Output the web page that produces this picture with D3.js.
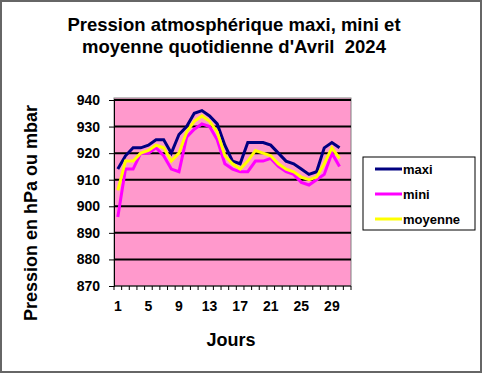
<!DOCTYPE html>
<html>
<head>
<meta charset="utf-8">
<script src="https://cdn.jsdelivr.net/npm/d3@7"></script>
<style>
  body { margin: 0; background: #fff; }
  text { font-family: "Liberation Sans", Arial, sans-serif; font-weight: bold; fill: #000; }
</style>
</head>
<body>
<svg width="482" height="373"></svg>
<script>
// days of April (the chart keeps one empty slot after day 30)
var days = [1,2,3,4,5,6,7,8,9,10,11,12,13,14,15,16,17,18,19,20,21,22,23,24,25,26,27,28,29,30,31];
var dayLabels = [1,5,9,13,17,21,25,29];
var yTicks = [870,880,890,900,910,920,930,940];

var maxi = [914,919,922,922,923,925,925,920,927,930,935,936,934,931,923,917,916,924,924,924,923,920,917,916,914,912,913,922,924,922];
var mini = [896,914,914,920,920,922,919,914,913,926,929,931,930,925,916,914,913,913,917,917,918,915,913,912,909,908,910,912,920,915];
var moyenne = [906,917,917,920,921,923,922,917,920,928,932,934,932,928,919,916,914,917,921,920,919,916,914,913,911,910,911,916,922,918];

var series = [
    {name: "maxi", values: maxi, color: "#000080"},
    {name: "mini", values: mini, color: "#ff00ff"},
    {name: "moyenne", values: moyenne, color: "#ffff00"}
];

var svg = d3.select("svg");
var plotLeft = 114, plotRight = 351, plotTop = 100, plotBottom = 286;

// outer frame
svg.append("rect")
    .attr("x", 1).attr("y", 1).attr("width", 480).attr("height", 371)
    .attr("fill", "#fff").attr("stroke", "#666").attr("stroke-width", 2);

var x = d3.scaleBand().domain(days).range([plotLeft, plotRight]).padding(0);
var y = d3.scaleLinear().domain([870, 940]).range([plotBottom, plotTop]);

// plot area
svg.append("rect")
    .attr("x", plotLeft).attr("y", plotTop - 2)
    .attr("width", plotRight - plotLeft).attr("height", plotBottom - plotTop + 2)
    .attr("fill", "#ff99cc").attr("stroke", "#808080").attr("stroke-width", 1);

// gridlines
svg.append("g").selectAll("line")
    .data(yTicks.slice(1))
    .enter().append("line")
    .attr("x1", plotLeft).attr("x2", plotRight)
    .attr("y1", function(d) { return y(d); })
    .attr("y2", function(d) { return y(d); })
    .attr("stroke", "#000").attr("stroke-width", 2);

// y axis
var yAxis = svg.append("g")
    .attr("transform", "translate(" + plotLeft + ",0)")
    .call(d3.axisLeft(y).tickValues(yTicks).tickSize(5).tickPadding(9).tickFormat(d3.format("d")));
yAxis.select(".domain").attr("stroke", "#000");
yAxis.selectAll("line").attr("stroke", "#000");
yAxis.selectAll("text").style("font-size", "14px").attr("fill", "#000");

// x axis: ticks on band boundaries, labels every 4 days
var xg = svg.append("g");
xg.append("line")
    .attr("x1", plotLeft).attr("x2", plotRight)
    .attr("y1", plotBottom).attr("y2", plotBottom)
    .attr("stroke", "#000");
xg.selectAll(".tk")
    .data(days.concat(["end"]))
    .enter().append("line")
    .attr("x1", function(d) { return d === "end" ? plotRight : x(d); })
    .attr("x2", function(d) { return d === "end" ? plotRight : x(d); })
    .attr("y1", plotBottom).attr("y2", plotBottom + 4)
    .attr("stroke", "#000");
xg.selectAll("text")
    .data(dayLabels)
    .enter().append("text")
    .attr("x", function(d) { return x(d) + x.bandwidth() / 2; })
    .attr("y", 311)
    .attr("text-anchor", "middle")
    .style("font-size", "14px")
    .text(function(d) { return d; });

// lines
var line = d3.line()
    .x(function(d, i) { return x(days[i]) + x.bandwidth() / 2; })
    .y(function(d) { return y(d); });

svg.append("g").selectAll("path")
    .data(series)
    .enter().append("path")
    .attr("d", function(s) { return line(s.values); })
    .attr("fill", "none")
    .attr("stroke", function(s) { return s.color; })
    .attr("stroke-width", 3)
    .attr("stroke-linejoin", "miter");

// titles
svg.append("text")
    .attr("x", 234).attr("text-anchor", "middle")
    .style("font-size", "18.5px")
    .selectAll("tspan")
    .data(["Pression atmosphérique maxi, mini et", "moyenne quotidienne d'Avril  2024"])
    .enter().append("tspan")
    .attr("x", 234)
    .attr("y", function(d, i) { return 31 + i * 22; })
    .style("white-space", "pre")
    .text(function(d) { return d; });

svg.append("text")
    .attr("x", 231).attr("y", 346)
    .attr("text-anchor", "middle")
    .style("font-size", "18px")
    .text("Jours");

svg.append("text")
    .attr("transform", "translate(37,213) rotate(-90)")
    .attr("text-anchor", "middle")
    .style("font-size", "18px")
    .text("Pression en hPa ou mbar");

// legend
var legend = svg.append("g");
legend.append("rect")
    .attr("x", 363).attr("y", 157).attr("width", 112).attr("height", 73)
    .attr("fill", "#fff").attr("stroke", "#000").attr("stroke-width", 1);
var item = legend.selectAll(".item")
    .data(series)
    .enter().append("g")
    .attr("transform", function(d, i) { return "translate(0," + [169, 194, 219][i] + ")"; });
item.append("line")
    .attr("x1", 375).attr("x2", 402)
    .attr("stroke", function(d) { return d.color; })
    .attr("stroke-width", 3);
item.append("text")
    .attr("x", 403).attr("y", 5)
    .style("font-size", "13px")
    .text(function(d) { return d.name; });
</script>
</body>
</html>
